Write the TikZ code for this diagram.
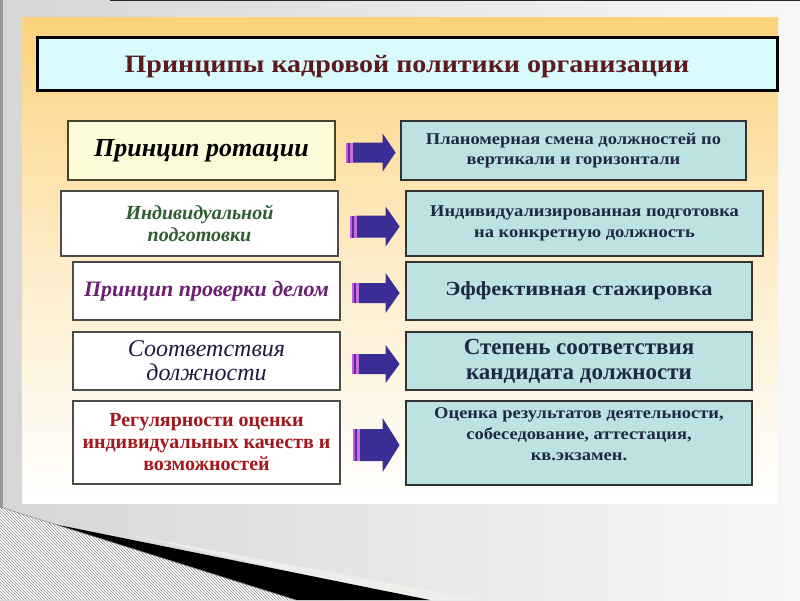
\documentclass[tikz,border=0pt]{standalone}
\usepackage{fontspec}
\setmainfont{Liberation Serif}[BoldFont={Liberation Serif Bold},ItalicFont={Liberation Serif Italic},BoldItalicFont={Liberation Serif Bold Italic}]
\newfontfamily\rfont[FakeStretch=1.12]{Liberation Serif}
\usetikzlibrary{patterns,calc}
\definecolor{panTop}{HTML}{FCD27C}
\definecolor{panMid}{HTML}{FDECC8}
\definecolor{titleFill}{HTML}{DAFBFD}
\definecolor{titleText}{HTML}{5C1A1E}
\definecolor{rFill}{HTML}{BCE2E2}
\definecolor{rText}{HTML}{1E2A44}
\definecolor{yFill}{HTML}{FDFCD8}
\definecolor{gText}{HTML}{2D5E2E}
\definecolor{pText}{HTML}{6B1F73}
\definecolor{nText}{HTML}{1C1A3D}
\definecolor{dText}{HTML}{A3181C}
\definecolor{arrBlue}{HTML}{3A2D94}
\definecolor{stripeA}{HTML}{C060E0}
\definecolor{stripeB}{HTML}{5A2A9A}
\newcommand{\blockarr}[5]{%
\begin{scope}[shift={(#1)}]
\fill[arrBlue] (7,-#3) -- (#2-#5,-#3) -- (#2-#5,-#4) -- (#2,0) -- (#2-#5,#4) -- (#2-#5,#3) -- (7,#3) -- cycle;
\fill[stripeA] (0,-#3) rectangle (2.4,#3);
\fill[stripeB] (2.4,-#3) rectangle (4.6,#3);
\fill[stripeA!85!pink] (4.6,-#3) rectangle (7,#3);
\end{scope}}
\tikzset{
  lbox/.style={draw=black!70, line width=1.2pt, fill=white, inner sep=0pt, align=center},
  rbox/.style={draw=black!80, line width=1.6pt, fill=rFill, inner sep=0pt, align=center, text=rText},
}
\begin{document}
\begin{tikzpicture}[x=1pt,y=-1pt]
\useasboundingbox (0,0) rectangle (800,600);
% background
\shade[left color=black!16, right color=black!3] (0,0) rectangle (800,600);
\fill[black!40] (0,0) rectangle (2.5,600);
\draw[black!85, line width=1pt] (110,0.5) -- (800,0.5);
% bottom-left decoration
\fill[white] (0,507) -- (296,600) -- (0,600) -- cycle;
\fill[pattern=north west lines, pattern color=black!45] (0,507) -- (296,600) -- (0,600) -- cycle;
\fill[yellow!15!black!8, opacity=0.8] (130,535) -- (480,600) -- (420,600) -- cycle;
\fill[black] (55,524.3) -- (430,600) -- (296,600) -- cycle;
\draw[black!50, line width=0.5pt] (0,507) -- (296,600);
% panel
\shade[top color=panTop, bottom color=white, middle color=panMid] (22,17) rectangle (778,503);
% title
\node[draw=black, line width=3pt, fill=titleFill, minimum width=740pt, minimum height=53pt,
      font=\rfont\bfseries\fontsize{25}{30}\selectfont, text=titleText, inner sep=0pt,
      text height=16pt, text depth=0pt]
      (title) at (407,64) {Принципы кадровой политики организации};
% left boxes
\node[lbox, fill=yFill, draw=black!65!olive, minimum width=267pt, minimum height=59pt,
      font=\bfseries\itshape\fontsize{26}{30}\selectfont] (l1) at (201.5,150.5) {Принцип ротации};
\node[lbox, minimum width=277pt, minimum height=65pt, text=gText,
      font=\bfseries\itshape\fontsize{20}{22}\selectfont] (l2) at (199.5,223.5) {Индивидуальной\\подготовки};
\node[lbox, minimum width=267pt, minimum height=58pt, text=pText,
      font=\bfseries\itshape\fontsize{22}{26}\selectfont] (l3) at (206.5,291) {Принцип проверки делом};
\node[lbox, minimum width=267pt, minimum height=58pt, text=nText,
      font=\itshape\fontsize{24}{24}\selectfont] (l4) at (206.5,361) {Соответствия\\должности};
\node[lbox, minimum width=267pt, minimum height=83pt, text=dText,
      font=\bfseries\fontsize{20}{22}\selectfont] (l5) at (206.5,442.5) {Регулярности оценки\\индивидуальных качеств и\\возможностей};
% right boxes
\node[rbox, minimum width=345pt, minimum height=59pt,
      font=\rfont\bfseries\fontsize{16.5}{20}\selectfont] (r1) at (573.5,150.5) {Планомерная смена должностей по\\вертикали и горизонтали};
\node[rbox, minimum width=357pt, minimum height=65pt,
      font=\rfont\bfseries\fontsize{16.5}{21}\selectfont] (r2) at (584.5,223.5) {Индивидуализированная подготовка\\на конкретную должность};
\node[rbox, minimum width=346pt, minimum height=58pt,
      font=\rfont\bfseries\fontsize{20}{24}\selectfont] (r3) at (579,291) {Эффективная стажировка};
\node[rbox, minimum width=346pt, minimum height=58pt,
      font=\bfseries\fontsize{23}{25}\selectfont] (r4) at (579,361) {Степень соответствия\\кандидата должности};
\node[rbox, minimum width=346pt, minimum height=84pt] (r5) at (579,443) {};
\node[text=rText, align=center, inner sep=0pt,
      font=\rfont\bfseries\fontsize{16.5}{21}\selectfont] (r5t) at ([yshift=9pt]r5.center) {Оценка результатов деятельности,\\собеседование, аттестация,\\кв.экзамен.};
% arrows
\coordinate (a1) at ($(l1.east)+(10,2)$);
\coordinate (a2) at ($(l2.east)+(11,3)$);
\coordinate (a3) at ($(l3.east)+(11,2)$);
\coordinate (a4) at ($(l4.east)+(11,3)$);
\coordinate (a5) at ($(l5.east)+(12,2.5)$);
\blockarr{a1}{50}{10}{19}{13}
\blockarr{a2}{50}{11}{20}{14}
\blockarr{a3}{48}{10}{20}{14}
\blockarr{a4}{48}{10}{19}{14}
\blockarr{a5}{47}{16}{27}{17}
\end{tikzpicture}
\end{document}
